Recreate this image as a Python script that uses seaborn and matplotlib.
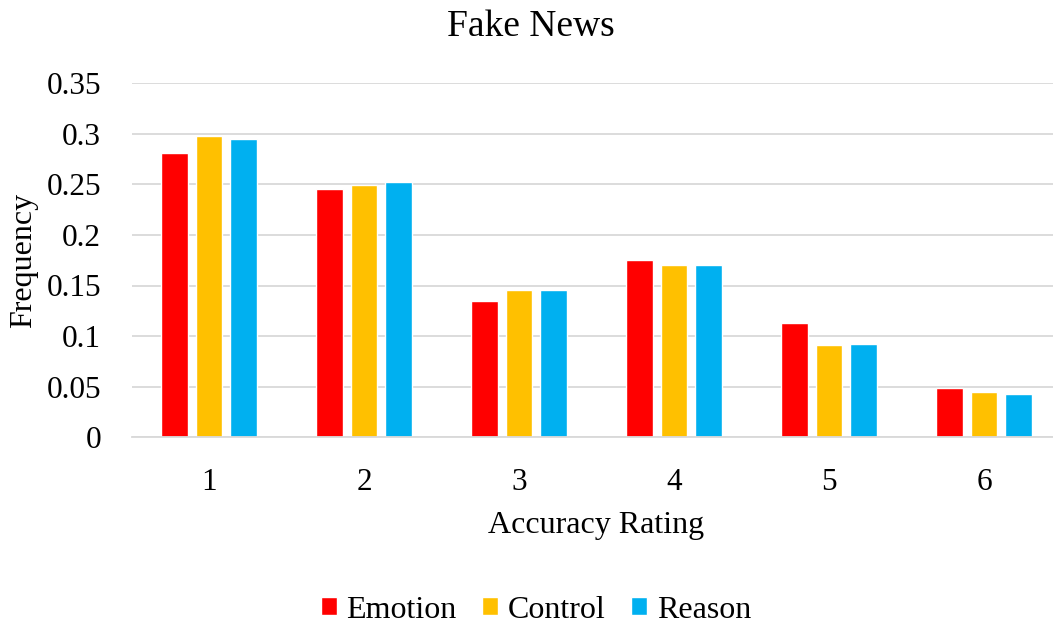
import matplotlib
matplotlib.use("Agg")
import matplotlib.pyplot as plt
import seaborn as sns
import pandas as pd

ratings = ["1", "2", "3", "4", "5", "6"]
conditions = ["Emotion", "Control", "Reason"]
emotion = [0.281, 0.245, 0.135, 0.175, 0.113, 0.049]
control = [0.298, 0.249, 0.146, 0.170, 0.091, 0.045]
reason = [0.295, 0.252, 0.146, 0.170, 0.092, 0.043]
colors = ["#FF0000", "#FFC000", "#00B0F0"]

df = pd.DataFrame({
    "Accuracy Rating": ratings * 3,
    "Frequency": emotion + control + reason,
    "Condition": [c for c in conditions for _ in ratings],
})

sns.set_theme(style="white")
plt.rcParams["font.family"] = ["Liberation Serif", "DejaVu Serif"]
plt.rcParams["text.color"] = "black"

fig = plt.figure(figsize=(10.53, 6.24), dpi=100)
ax = fig.add_axes([131.5 / 1053, 1 - 437.3 / 624, 930 / 1053, 354.2 / 624])

sns.barplot(data=df, x="Accuracy Rating", y="Frequency", hue="Condition",
            hue_order=conditions, palette=colors, width=0.668, gap=0.22,
            saturation=1, ax=ax, legend=True)

ax.set_xlim(-0.5, 5.5)
ax.set_ylim(0, 0.35)
ax.set_yticks([0, 0.05, 0.1, 0.15, 0.2, 0.25, 0.3, 0.35])
ax.set_yticklabels(["0", "0.05", "0.1", "0.15", "0.2", "0.25", "0.3", "0.35"])
ax.grid(axis="y", color="#D9D9D9", linewidth=1.3)
ax.set_axisbelow(True)
for s in ["top", "right", "left"]:
    ax.spines[s].set_visible(False)
ax.spines["bottom"].set_color("#D9D9D9")
ax.spines["bottom"].set_linewidth(1.3)
ax.tick_params(axis="both", length=0, labelsize=22.5, colors="black")
ax.tick_params(axis="x", pad=22)
ax.tick_params(axis="y", pad=22)

ax.set_xlabel("Accuracy Rating", fontsize=23, labelpad=10, color="black")
ax.set_ylabel("Frequency", fontsize=23, labelpad=6, color="black")
fig.text(531 / 1053, 1 - 27 / 624, "Fake News", ha="center", va="center",
         fontsize=27, color="black")

handles, labels = ax.get_legend_handles_labels()
leg = ax.legend(handles, labels, loc="center", bbox_to_anchor=(536 / 1053, 1 - 610 / 624),
                bbox_transform=fig.transFigure, ncol=3, frameon=False, fontsize=23,
                handlelength=0.5, handleheight=0.5, handletextpad=0.3, columnspacing=0.8)
for t in leg.get_texts():
    t.set_color("black")

fig.savefig("out.png", dpi=100)
